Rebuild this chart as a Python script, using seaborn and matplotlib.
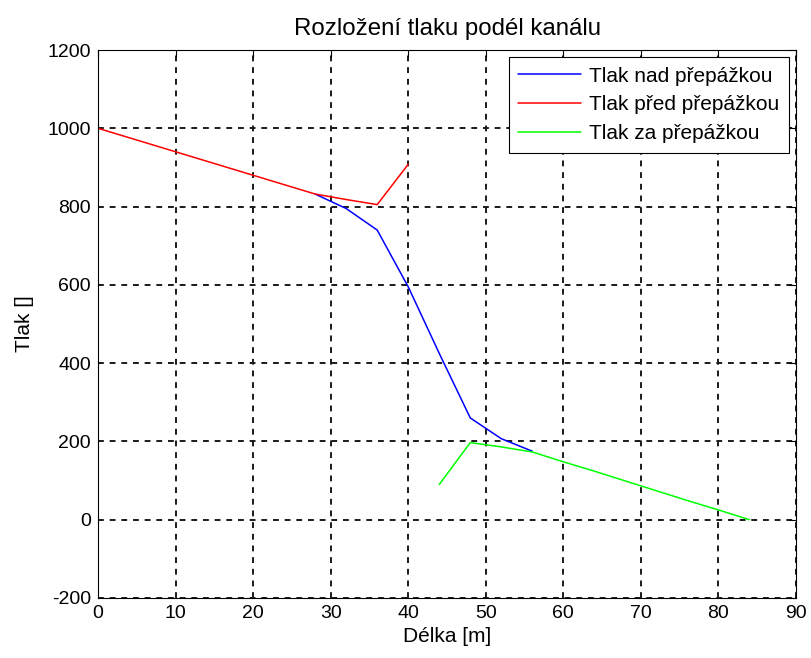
import matplotlib
matplotlib.use("Agg")
import matplotlib.pyplot as plt
import seaborn as sns
import pandas as pd

# Pressure along the channel
x_nad = [28, 32, 36, 40, 44, 48, 52, 56]
p_nad = [832, 795, 740, 595, 425, 260, 207, 175]

x_pred = [0, 4, 8, 12, 16, 20, 24, 28, 32, 36, 40]
p_pred = [1000, 976, 952, 928, 904, 880, 856, 832, 818, 805, 908]

x_za = [44, 48, 52, 56, 60, 64, 68, 72, 76, 80, 84]
p_za = [90, 197, 186, 173, 148, 124, 99, 74, 49, 25, 0]

labels = ["Tlak nad přepážkou", "Tlak před přepážkou", "Tlak za přepážkou"]
colors = ["#0000ff", "#ff0000", "#00ff00"]

x_ticks = list(range(0, 91, 10))
y_ticks = list(range(-200, 1201, 200))

sns.set_style("white")
plt.rcParams["font.family"] = ["Liberation Sans", "DejaVu Sans"]
plt.rcParams["text.color"] = "black"
plt.rcParams["axes.labelcolor"] = "black"
plt.rcParams["axes.unicode_minus"] = False

fig = plt.figure(figsize=(8.11, 6.58), dpi=100)
ax = fig.add_axes([98 / 811, 1 - 598 / 658, (796 - 98) / 811, (598 - 50) / 658])

for xs, ps, lab, col in zip([x_nad, x_pred, x_za], [p_nad, p_pred, p_za], labels, colors):
    df = pd.DataFrame({"x": xs, "p": ps})
    sns.lineplot(data=df, x="x", y="p", ax=ax, color=col, linewidth=1.1, label=lab)

ax.set_xlim(0, 90)
ax.set_ylim(-200, 1200)
ax.set_xticks(x_ticks)
ax.set_yticks(y_ticks)
ax.tick_params(direction="in", length=5, top=True, right=True, labelsize=14,
               colors="black", pad=5)
for s in ax.spines.values():
    s.set_visible(True)
    s.set_color("black")
    s.set_linewidth(0.8)
ax.grid(True, color="#1a1a1a", linestyle=(0, (3, 3)), linewidth=1.4)
ax.set_axisbelow(True)

ax.set_title("Rozložení tlaku podél kanálu", fontsize=17.3, pad=11, color="black")
ax.set_xlabel("Délka [m]", fontsize=15, labelpad=4)
ax.set_ylabel("Tlak []", fontsize=15, labelpad=10)

leg = ax.legend(loc="upper right", fontsize=15, frameon=True, fancybox=False,
                edgecolor="black", framealpha=1, handlelength=3.0,
                handletextpad=0.4, borderaxespad=0.35, labelspacing=0.47,
                borderpad=0.45)
leg.get_frame().set_linewidth(0.8)

fig.savefig("out.png", dpi=100, facecolor="white")
